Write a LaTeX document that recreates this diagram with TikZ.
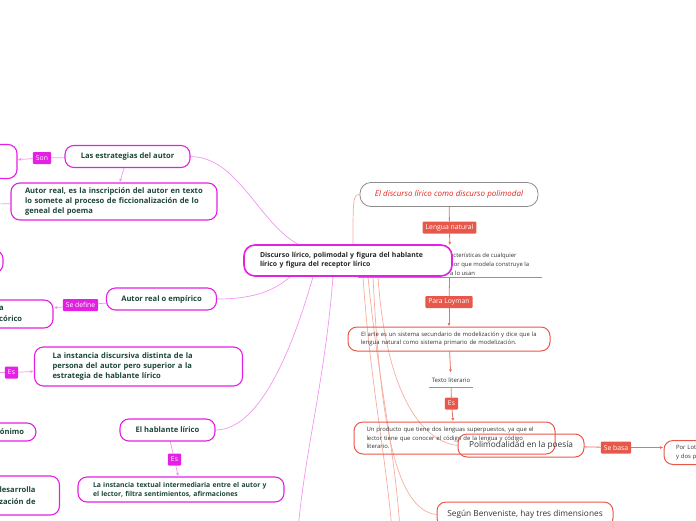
\documentclass[tikz,border=0pt]{standalone}
\usepackage{fontspec}
\setmainfont{Open Sans}
\usepackage{tikz}
\usetikzlibrary{arrows.meta,positioning,shapes,calc,backgrounds}
\usepackage{xcolor}
\definecolor{autor}{RGB}{228,32,228}
\definecolor{autorlink}{RGB}{242,150,242}
\definecolor{autortext}{RGB}{27,70,54}
\definecolor{polimod}{RGB}{232,88,74}
\definecolor{polilink}{RGB}{246,172,158}
\definecolor{titulo}{RGB}{226,36,30}

\begin{document}
\begin{tikzpicture}[x=1pt, y=-1pt,
  mtext/.style={text=autortext, font=\bfseries\fontsize{7.6}{10.3}\selectfont, inner sep=0pt},
  mbox/.style={mtext, draw=autor, line width=1.1pt, rounded corners=9pt},
  rtext/.style={text=black!80, font=\fontsize{5.9}{8.7}\selectfont, inner sep=0pt},
  rbox/.style={rtext, draw=polimod, line width=1pt, rounded corners=9pt},
  mtag/.style={fill=autor, text=white, rounded corners=1pt, font=\fontsize{6.8}{7}\selectfont,
               minimum height=12, inner xsep=3pt, inner ysep=0pt},
  rtag/.style={fill=polimod, text=white, rounded corners=1pt, font=\fontsize{6.8}{7}\selectfont,
               minimum height=12, inner xsep=3pt, inner ysep=0pt},
  mline/.style={draw=autorlink, line width=0.7pt},
  rline/.style={draw=polimod!85, line width=0.8pt},
  rcurve/.style={draw=polilink, line width=0.7pt},
  pointy/.style={-{Latex[length=3.5pt,width=3pt]}},
]
\useasboundingbox (0,0) rectangle (696,520);

% autor side
\node[mbox, minimum width=57, minimum height=34] (cutA) at (-11.5,161.5) {};
\node[mbox, minimum width=53, minimum height=23] (cutB) at (-23.5,261.5) {};
\node[mbox, minimum width=113, minimum height=28] (cutC) at (-3.5,314) {};
\node[mtext, anchor=west, align=left] (cutCtext) at (-1,314) {a\\[1.5pt]córico};
\node[mbox, minimum width=76, minimum height=18, text width=52, inner xsep=12pt, align=right] (cutD) at (-2,432) {ónimo};
\node[mbox, minimum width=120, minimum height=39, text width=72, inner xsep=24pt, align=right] (cutE) at (-0.5,495.5) {desarrolla\\[1.5pt]zación de};

\node[mbox, minimum width=125, minimum height=22] (estrat) at (127.5,156.5) {Las estrategias del autor};
\node[mbox, minimum width=206, minimum height=37, text width=178, align=left] (inscr) at (114,201.5)
  {Autor real, es la inscripción del autor en texto\\lo somete al proceso de ficcionalización de lo\\geneal del poema};
\node[mbox, minimum width=110, minimum height=22] (empir) at (161.5,299) {Autor real o empírico};
\node[mbox, minimum width=208, minimum height=39, text width=172, align=left] (instD) at (138.5,366.5)
  {La instancia discursiva distinta de la\\persona del autor pero superior a la\\estrategia de hablante lírico};
\node[mbox, minimum width=95, minimum height=22] (hablante) at (167.5,430) {El hablante lírico};
\node[mbox, minimum width=206, minimum height=25, text width=176, align=left,
      font=\bfseries\fontsize{6.8}{9}\selectfont] (instT) at (181,489.5)
  {La instancia textual intermediaria entre el autor y\\el lector, filtra sentimientos, afirmaciones};

\foreach \n/\x/\y/\t in {son/42/158/Son, define/80.5/305/Se define,
                         esA/11.5/372.5/Es, esB/174.5/459.5/Es} {
  \node[mtag] (\n) at (\x,\y) {\t};
}
\coordinate (offA) at (-5,204);
\coordinate (offB) at (-8,372.5);
\coordinate (offC) at (298,530);

% polimodal side
\node[draw=black!45, line width=0.8pt, rounded corners=11pt, minimum width=178, minimum height=24,
      text=titulo, font=\itshape\fontsize{8}{9}\selectfont] (disc) at (449,194.5)
  {El discurso lírico como discurso polimodal};
\node[minimum width=184, minimum height=32, inner sep=0pt] (carac) at (450,261.5) {};
\node[rtext, anchor=west, align=left, font=\fontsize{5.9}{9}\selectfont] (caracText) at (450,264)
  {acterísticas de cualquier\\por que modela construye la\\a lo usan};
\node[rbox, minimum width=202, minimum height=24, text width=176, align=left] (arte) at (449,339)
  {El arte es un sistema secundario de modelización y dice que la\\lengua natural como sistema primario de modelización.};
\node[rtext, minimum width=44, minimum height=14, font=\fontsize{6}{8}\selectfont] (texto) at (451,380) {Texto literario};
\node[rbox, minimum width=201, minimum height=32, text width=176, align=left] (prod) at (454.5,438)
  {Un producto que tiene dos lenguas superpuestos, ya que el\\lector tiene que conocer el código de la lengua y código\\literario.};
\node[rbox, minimum width=126, minimum height=23, font=\fontsize{8.3}{9}\selectfont] (polim) at (521,445.5)
  {Polimodalidad en la poesía};
\node[rbox, minimum width=80, minimum height=24, text width=56, inner xsep=12pt, align=left,
      font=\fontsize{5.9}{9}\selectfont] (lotm) at (704,452.5) {Por Lot\\y dos p};
\node[rbox, minimum width=176, minimum height=25, font=\fontsize{8.3}{9}\selectfont] (benv) at (525,514.5)
  {Según Benveniste, hay tres dimensiones};

\foreach \n/\x/\y/\t in {lengua/449.5/227.5/Lengua natural, loyman/449/302/Para Loyman,
                         esC/451.5/403.5/Es, basa/616/447.5/Se basa} {
  \node[rtag] (\n) at (\x,\y) {\t};
}
\coordinate (offD) at (392,530);
\coordinate (offE) at (400,530);

% central topic
\node[draw=autor, line width=1.6pt, fill=white, rounded corners=11pt, minimum width=208, minimum height=31,
      text width=176, align=left, inner sep=0pt, text=black!85,
      font=\bfseries\fontsize{6.9}{9.3}\selectfont] (centro) at (348,260.5)
  {Discurso lírico, polimodal y figura del hablante\\lírico y figura del receptor lírico};

\draw[rline] (texto.south west) -- (texto.south east);
\draw[rline] (carac.south west) -- (carac.south east);

\begin{scope}[on background layer]
% links
\draw[mline] (estrat) -- (son);
\draw[mline, pointy] (son) -- (cutA);
\draw[mline, pointy] (estrat) -- (inscr);
\draw[mline, pointy] (inscr) -- (offA);
\draw[mline] (empir) -- (define);
\draw[mline, pointy] (define) -- (cutC);
\draw[mline] (offB) -- (esA);
\draw[mline, pointy] (esA) -- (instD);
\draw[mline] (hablante) -- (esB);
\draw[mline, pointy] (esB) -- (instT);

\draw[mline] (estrat.east) .. controls (238,157) and (258,222) .. ([xshift=-50pt]centro.north);
\draw[mline] (empir.east) .. controls (255,299) and (275,290) .. ([xshift=-58pt]centro.south);
\draw[mline] (hablante.east) .. controls (262,430) and (295,340) .. ([xshift=-35pt]centro.south);
\draw[mline] ([xshift=-15pt]centro.south) .. controls (325,380) and (305,450) .. (offC);

\foreach \a/\b in {disc/lengua, carac/loyman, texto/esC, polim/basa} {
  \draw[rline] (\a) -- (\b);
}
\foreach \a/\b in {lengua/carac, loyman/arte, arte/texto, esC/prod} {
  \draw[rline, pointy] (\a) -- (\b);
}
\draw[rline, pointy] (basa) -- (basa -| lotm.west);

\draw[rcurve] ([xshift=5pt]centro.north) .. controls (353,200) and (353,194.5) .. (disc.west);
\draw[rcurve] ([xshift=30pt]centro.south) .. controls (385,380) and (415,440) .. (polim.west);
\draw[rcurve] ([xshift=25pt]centro.south) .. controls (380,420) and (395,510) .. (benv.west);
\draw[rcurve] ([xshift=15pt]centro.south) .. controls (370,380) and (385,450) .. (offD);
\draw[rcurve] ([xshift=20pt]centro.south) .. controls (378,380) and (395,450) .. (offE);
\end{scope}
\end{tikzpicture}
\end{document}
